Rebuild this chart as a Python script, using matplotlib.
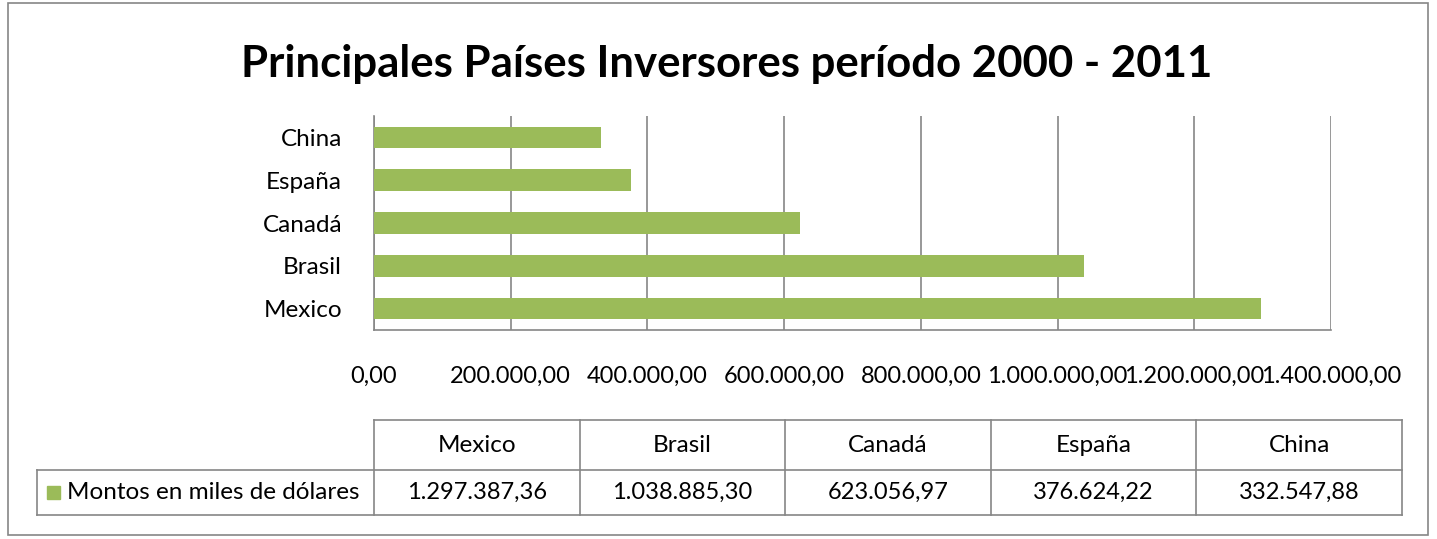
import matplotlib.pyplot as plt
from matplotlib.patches import Rectangle

# DATA

paises = ["Mexico", "Brasil", "Canadá", "España", "China"]
montos = [1297387.36, 1038885.30, 623056.97, 376624.22, 332547.88]
serie = "Montos en miles de dólares"
titulo = "Principales Países Inversores período 2000 - 2011"
x_ticks = [0, 200000, 400000, 600000, 800000, 1000000, 1200000, 1400000]

verde = "#9BBB59"
gris = "#868686"

plt.rcParams["font.family"] = ["Lato", "DejaVu Sans"]


def fmt_es(v):
    s = f"{v:,.2f}"
    return s.replace(",", "X").replace(".", ",").replace("X", ".")


W, H = 1437, 539
fig = plt.figure(figsize=(W / 100, H / 100), dpi=100)

# chart border + title + table drawn in pixel coords on an overlay
over = fig.add_axes([0, 0, 1, 1])
over.set_xlim(0, W)
over.set_ylim(H, 0)
over.axis("off")
over.add_patch(Rectangle((8, 3), 1420, 532, fill=False, ec=gris, lw=1.2))
over.text(727, 64, titulo, ha="center", va="center", fontsize=31.5,
          fontweight="bold")

# MAIN PLOT

x0, x1, y0, y1 = 374, 1331, 116, 330
ax = fig.add_axes([x0 / W, 1 - y1 / H, (x1 - x0) / W, (y1 - y0) / H])
ax.barh(range(len(paises)), montos, height=0.5, color=verde, zorder=3)
ax.set_ylim(-0.5, len(paises) - 0.5)
ax.set_xlim(0, 1400000)
ax.set_yticks(range(len(paises)))
ax.set_yticklabels(paises, fontsize=17.5)
ax.set_xticks(x_ticks)
ax.set_xticklabels([fmt_es(v) for v in x_ticks], fontsize=17)
ax.tick_params(axis="both", length=0)
ax.tick_params(axis="x", pad=26)
ax.tick_params(axis="y", pad=23)
ax.grid(axis="x", color=gris, lw=1.2, zorder=0)
for s in ["top", "right"]:
    ax.spines[s].set_visible(False)
for s in ["left", "bottom"]:
    ax.spines[s].set_color(gris)
    ax.spines[s].set_linewidth(1.2)

# DATA TABLE

ty0, ty1, ty2 = 420, 470, 515
tl, tx0, tx1 = 37, 374, 1402
cw = (tx1 - tx0) / len(paises)
kw = dict(color=gris, lw=1.2)
over.plot([tx0, tx1], [ty0, ty0], **kw)
over.plot([tl, tx1], [ty1, ty1], **kw)
over.plot([tl, tx1], [ty2, ty2], **kw)
over.plot([tl, tl], [ty1, ty2], **kw)
for i in range(len(paises) + 1):
    over.plot([tx0 + i * cw] * 2, [ty0, ty2], **kw)
for i, (p, m) in enumerate(zip(paises, montos)):
    cx = tx0 + (i + 0.5) * cw
    over.text(cx, (ty0 + ty1) / 2, p, ha="center", va="center",
              fontsize=17.5)
    over.text(cx, (ty1 + ty2) / 2, fmt_es(m), ha="center", va="center",
              fontsize=17)
over.add_patch(Rectangle((47, 486), 13, 13, color=verde))
over.text(67, (ty1 + ty2) / 2, serie, ha="left", va="center", fontsize=17.5)

fig.savefig("out.png", dpi=100)
